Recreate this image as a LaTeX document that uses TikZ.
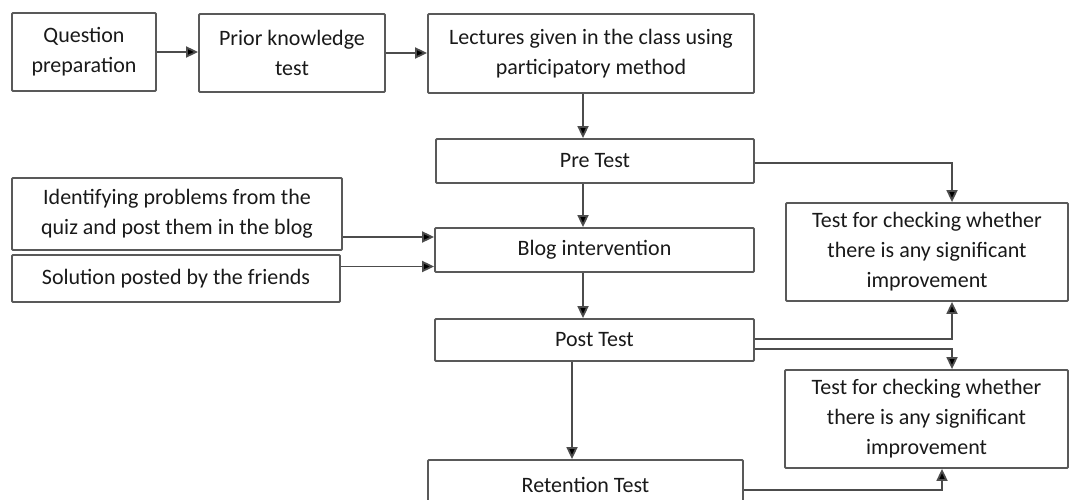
\documentclass[tikz,border=0pt]{standalone}
\usepackage{fontspec}
\setmainfont{Carlito}
\usetikzlibrary{arrows.meta}
\tikzset{
  box/.style={draw=black!65, line width=1.8pt, rounded corners=1pt, inner sep=0pt, align=center,
    font=\fontsize{22}{30}\selectfont, text=black!90},
  arr/.style={draw=black!70, line width=1.8pt, -{Triangle[length=12pt,width=11pt,fill=black]}}
}
\begin{document}
\begin{tikzpicture}[x=1pt,y=-1pt]
\useasboundingbox (0,0) rectangle (1076,500);
\clip (0,0) rectangle (1076,500);
\node[box, minimum width=144pt, minimum height=78pt] (qp) at (84,52) {Question\\preparation};
\node[box, minimum width=186pt, minimum height=78pt] (pk) at (292,53) {Prior knowledge\\test};
\node[box, minimum width=326pt, minimum height=79pt] (lec) at (591,53.5) {Lectures given in the class using\\participatory method};
\node[box, minimum width=318pt, minimum height=44pt] (pre) at (595,161) {Pre Test};
\node[box, minimum width=330pt, minimum height=72pt] (ident) at (177,214) {Identifying problems from the\\quiz and post them in the blog};
\node[box, minimum width=328pt, minimum height=47pt] (sol) at (176,278.5) {Solution posted by the friends};
\node[box, minimum width=319pt, minimum height=44pt] (blog) at (594.5,250) {Blog intervention};
\node[box, minimum width=282pt, minimum height=98pt] (t1) at (927,252) {Test for checking whether\\there is any significant\\improvement};
\node[box, minimum width=319pt, minimum height=42pt] (post) at (594.5,340) {Post Test};
\node[box, minimum width=283pt, minimum height=98pt] (t2) at (926.5,419) {Test for checking whether\\there is any significant\\improvement};
\node[box, minimum width=315pt, minimum height=50pt] (ret) at (585.5,485) {Retention Test};
\coordinate (c1) at (583,0);
\coordinate (c2) at (572,0);
\coordinate (r1) at (952,0);
\coordinate (r2) at (942,0);
\draw[arr] (qp.east) -- (qp.east -| pk.west);
\draw[arr] (pk.east) -- (pk.east -| lec.west);
\draw[arr] (lec.south -| c1) -- (pre.north -| c1);
\draw[arr] (pre.south -| c1) -- (blog.north -| c1);
\draw[arr] (blog.south -| c1) -- (post.north -| c1);
\draw[arr] (post.south -| c2) -- (ret.north -| c2);
\draw[arr] ([yshift=-2pt]pre.east) -| (r1 |- t1.north);
\draw[arr] ([yshift=-23pt]ident.east) -- ([yshift=-23pt]ident.east -| blog.west);
\draw[arr] ([yshift=12pt]sol.east) -- ([yshift=12pt]sol.east -| blog.west);
\draw[arr] ([yshift=1pt]post.east) -| (r1 |- t1.south);
\draw[arr] ([yshift=-9pt]post.east) -| (r1 |- t2.north);
\draw[arr] ([yshift=-5pt]ret.east) -| (r2 |- t2.south);
\end{tikzpicture}
\end{document}
